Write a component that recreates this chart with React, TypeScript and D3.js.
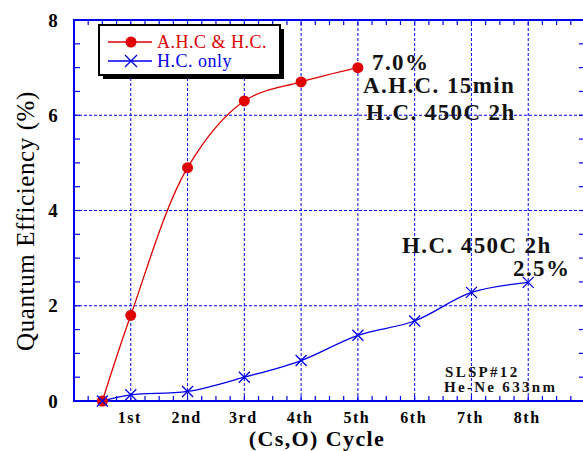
import React from "react";
import * as d3 from "d3";

const cycles = [0.5, 1, 2, 3, 4, 5, 6, 7, 8];
const ahcValues = [0, 1.8, 4.9, 6.3, 6.7, 7.0];
const hcValues = [0, 0.13, 0.2, 0.5, 0.85, 1.38, 1.68, 2.28, 2.49];
const xTickLabels = ["1st", "2nd", "3rd", "4th", "5th", "6th", "7th", "8th"];
const yTicks = [0, 2, 4, 6, 8];

const W = 583, H = 451;
const x = d3.scaleLinear().domain([0, 9]).range([74, 585]);
const y = d3.scaleLinear().domain([0, 8]).range([401, 20]);
const serif = "'Liberation Serif', 'Times New Roman', serif";
const BLUE = "#0000ee";
const RED = "#e00000";

export default function App() {
  const line = d3.line<[number, number]>().x(d => x(d[0])).y(d => y(d[1])).curve(d3.curveCatmullRom.alpha(0.5));
  const ahcPts: [number, number][] = ahcValues.map((v, i) => [cycles[i], v]);
  const hcPts: [number, number][] = hcValues.map((v, i) => [cycles[i], v]);
  const xMinor = d3.range(0, 9.001, 0.25);
  const yMinor = d3.range(0, 8.001, 0.5);
  return (
    <svg width={W} height={H} style={{ position: "absolute", left: 0, top: 0 }}>
      <rect width={W} height={H} fill="white" />
      {/* grid */}
      {d3.range(1, 9).map(v => (
        <line key={"gx" + v} x1={x(v)} x2={x(v)} y1={y(0)} y2={y(8)} stroke={BLUE} strokeWidth={1} strokeDasharray="3,2" />
      ))}
      {[2, 4, 6].map(v => (
        <line key={"gy" + v} x1={x(0)} x2={x(9)} y1={y(v)} y2={y(v)} stroke={BLUE} strokeWidth={1} strokeDasharray="3,2" />
      ))}
      {/* minor ticks */}
      {xMinor.map((v, i) => (
        <g key={"xm" + i}>
          <line x1={x(v)} x2={x(v)} y1={y(0)} y2={y(0) - 5} stroke={BLUE} strokeWidth={1.2} />
          <line x1={x(v)} x2={x(v)} y1={y(8)} y2={y(8) + 5} stroke={BLUE} strokeWidth={1.2} />
        </g>
      ))}
      {yMinor.map((v, i) => (
        <g key={"ym" + i}>
          <line x1={x(0)} x2={x(0) + 6} y1={y(v)} y2={y(v)} stroke={BLUE} strokeWidth={1.2} />
          <line x1={x(9) - 6} x2={x(9)} y1={y(v)} y2={y(v)} stroke={BLUE} strokeWidth={1.2} />
        </g>
      ))}
      {/* frame */}
      <rect x={x(0)} y={y(8)} width={x(9) - x(0)} height={y(0) - y(8)} fill="none" stroke={BLUE} strokeWidth={2} />
      {/* y tick labels */}
      {yTicks.map(v => (
        <text key={"yt" + v} x={53} y={y(v) + 6.5} textAnchor="middle" fontFamily={serif} fontWeight="bold" fontSize={19}>{v}</text>
      ))}
      {/* x tick labels */}
      {xTickLabels.map((t, i) => (
        <text key={"xt" + t} x={x(i + 1) - 1} y={423} textAnchor="middle" fontFamily={serif} fontWeight="bold" fontSize={16} letterSpacing={1.5}>{t}</text>
      ))}
      <text x={317} y={446} textAnchor="middle" fontFamily={serif} fontWeight="bold" fontSize={22} letterSpacing={1.4}>(Cs,O) Cycle</text>
      <text transform={`translate(34,221) rotate(-90)`} textAnchor="middle" fontFamily={serif} fontSize={25} letterSpacing={0.6}>Quantum Efficiency (%)</text>
      {/* lines */}
      <path d={line(hcPts) || ""} fill="none" stroke={BLUE} strokeWidth={1.3} />
      <path d={line(ahcPts) || ""} fill="none" stroke={RED} strokeWidth={1.3} />
      {ahcPts.map((p, i) => (
        <circle key={"c" + i} cx={x(p[0])} cy={y(p[1])} r={5.5} fill={RED} />
      ))}
      {hcPts.map((p, i) => (
        <path key={"h" + i} d={`M${x(p[0]) - 5.5},${y(p[1]) - 5.5}L${x(p[0]) + 5.5},${y(p[1]) + 5.5}M${x(p[0]) - 5.5},${y(p[1]) + 5.5}L${x(p[0]) + 5.5},${y(p[1]) - 5.5}`} stroke={BLUE} strokeWidth={1.3} />
      ))}
      {/* legend */}
      <rect x={103} y={29} width={181} height={50} fill="black" />
      <rect x={99} y={25} width={181} height={50} fill="white" stroke="black" strokeWidth={2} />
      <line x1={108} x2={152} y1={42} y2={42} stroke={RED} strokeWidth={1.3} />
      <circle cx={131} cy={42} r={5.5} fill={RED} />
      <text x={157} y={48} fontFamily={serif} fontSize={18} fill={RED} letterSpacing={0.5}>A.H.C &amp; H.C.</text>
      <line x1={108} x2={152} y1={61} y2={61} stroke={BLUE} strokeWidth={1.3} />
      <path d="M125,55L137,67M125,67L137,55" stroke={BLUE} strokeWidth={1.3} />
      <text x={157} y={67} fontFamily={serif} fontSize={18} fill={BLUE} letterSpacing={0.5}>H.C. only</text>
      {/* annotations */}
      <g fontFamily={serif} fontWeight="bold" fontSize={23} fill="#111" letterSpacing={1.4}>
        <text x={372} y={70}>7.0%</text>
        <text x={363} y={93}>A.H.C. 15min</text>
        <text x={366} y={120}>H.C. 450C 2h</text>
        <text x={402} y={253}>H.C. 450C 2h</text>
        <text x={513} y={276}>2.5%</text>
      </g>
      <g fontFamily={serif} fontWeight="bold" fontSize={15} fill="#111" letterSpacing={2.3}>
        <text x={445} y={377}>SLSP#12</text>
        <text x={444} y={392}>He-Ne 633nm</text>
      </g>
    </svg>
  );
}
